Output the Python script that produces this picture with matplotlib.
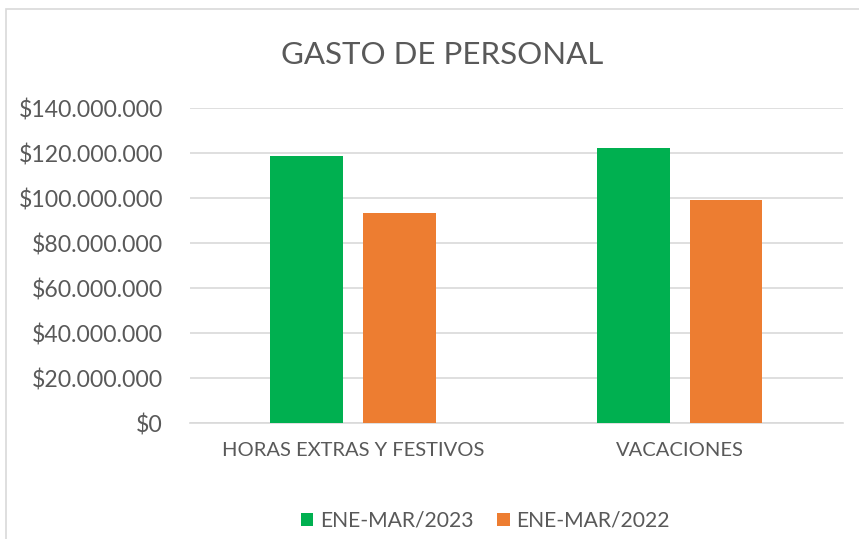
import matplotlib.pyplot as plt
import matplotlib.patches as mpatches
import numpy as np
from matplotlib.ticker import FuncFormatter

categorias = ["HORAS EXTRAS Y FESTIVOS", "VACACIONES"]
series = ["ENE-MAR/2023", "ENE-MAR/2022"]
gasto_2023 = [118700000, 122200000]
gasto_2022 = [93300000, 99000000]
colores = ["#00B050", "#ED7D31"]

plt.rcParams['font.family'] = ['Lato', 'DejaVu Sans']
gris = "#595959"

fig = plt.figure(figsize=(8.59, 5.39), dpi=100)
ax = fig.add_axes([0.2212, 0.2152, 0.760, 0.5844])

# marco del grafico
fig.patches.append(mpatches.Rectangle((6/859, -0.1), 1.2, 1 - 9/539 + 0.1,
                                      transform=fig.transFigure, fill=False,
                                      edgecolor="#D9D9D9", linewidth=1.2))

x = np.arange(len(categorias))
ancho = 0.223
desp = 0.142
ax.bar(x - desp, gasto_2023, ancho, color=colores[0], label=series[0], zorder=3)
ax.bar(x + desp, gasto_2022, ancho, color=colores[1], label=series[1], zorder=3)

ax.set_xlim(-0.5, 1.5)
ax.set_ylim(0, 140000000)
ax.set_yticks(np.arange(0, 140000001, 20000000))
fmt = lambda v, p: "$" + f"{int(v):,}".replace(",", ".")
ax.yaxis.set_major_formatter(FuncFormatter(fmt))
ax.set_xticks(x)
ax.set_xticklabels(categorias)

ax.grid(axis="y", color="#D9D9D9", linewidth=1.2, zorder=0)
for s in ["top", "right", "left"]:
    ax.spines[s].set_visible(False)
ax.spines["bottom"].set_color("#D9D9D9")
ax.spines["bottom"].set_linewidth(1.2)
ax.tick_params(axis="y", length=0, labelsize=16.6, labelcolor=gris, pad=19.5)
ax.tick_params(axis="x", length=0, labelsize=14.5, labelcolor=gris, pad=14)

fig.text(0.515, 0.898, "GASTO DE PERSONAL", ha="center", va="center",
         fontsize=22.5, color=gris)

ax.legend(loc="center", bbox_to_anchor=(0.565, 0.034), bbox_transform=fig.transFigure,
          ncol=2, frameon=False, fontsize=15.2, labelcolor=gris,
          handlelength=0.6, handleheight=0.6, handletextpad=0.3, columnspacing=1.15)

fig.savefig("out.png", dpi=100)
